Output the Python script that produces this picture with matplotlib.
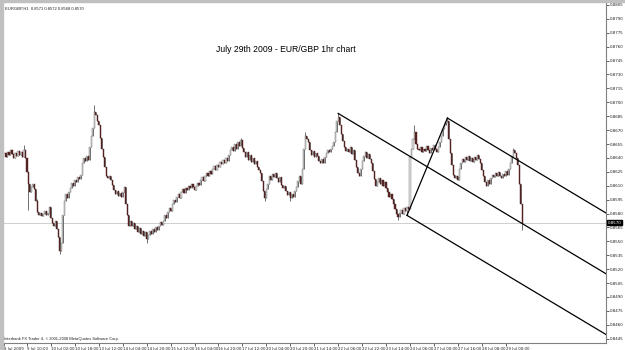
import matplotlib
matplotlib.use("Agg")
import matplotlib.pyplot as plt
from matplotlib.patches import Rectangle
import numpy as np

# ---- data (EUR/GBP, H1) ----
closes = [
    .8645, .8641, .8646, .8643, .8648, .8644, .8640, .8645, .8642, .8647,
    .8643, .8646, .8641, .8649, .8640,
    .8625, .8612, .8603,
    .8609, .8612, .8606,
    .8594, .8582, .8578,
    .8581, .8577, .8580, .8583, .8578, .8581, .8587,
    .8575, .8570, .8566, .8572, .8563,
    .8555, .8540, .8548,
    .8578, .8594,
    .8601, .8597, .8603, .8608,
    .8613, .8610, .8616, .8614, .8619, .8617, .8622,
    .8635, .8640, .8637, .8642, .8638,
    .8652, .8664, .8672, .8690, .8686,
    .8680,
    .8675, .8662, .8650,
    .8641, .8630, .8621,
    .8618, .8620, .8616, .8611,
    .8605, .8601, .8604, .8599, .8602, .8598, .8603, .8609,
    .8590, .8578, .8567,
    .8572, .8566, .8570, .8563, .8567, .8560, .8564, .8558, .8561, .8556,
    .8560, .8553, .8557, .8561, .8558, .8563, .8560, .8565, .8562, .8567,
    .8571, .8568,
    .8572, .8578, .8575, .8582, .8586, .8583, .8590,
    .8595, .8592, .8598, .8601, .8597, .8603, .8606, .8602,
    .8608, .8605, .8610, .8607, .8612, .8609, .8605, .8610, .8613, .8611,
    .8616, .8619, .8615, .8621, .8624, .8620, .8626, .8623, .8628, .8631,
    .8627, .8632, .8630, .8636, .8633, .8638, .8635, .8640, .8637, .8643,
    .8648, .8652, .8647, .8655, .8650, .8657, .8653, .8659, .8651, .8646,
    .8641, .8646, .8638, .8643, .8636, .8640, .8633, .8637, .8630, .8627,
    .8624, .8615, .8604, .8597, .8606, .8612, .8620, .8616, .8623, .8619,
    .8624, .8618, .8614, .8619, .8611, .8607, .8610, .8604, .8600, .8603,
    .8597, .8601, .8598, .8604, .8609, .8615, .8621,
    .8612, .8628, .8650, .8664, .8660, .8657,
    .8648, .8643, .8647, .8641, .8645, .8642,
    .8637, .8635, .8639, .8634,
    .8641, .8645, .8648, .8646, .8650, .8653, .8657,
    .8668, .8680, .8684,
    .8675, .8666, .8658, .8652, .8647,
    .8650, .8646, .8652, .8644, .8648,
    .8638, .8630, .8624, .8620,
    .8628, .8637, .8642, .8646, .8640, .8644, .8639, .8634,
    .8626, .8617, .8610, .8614,
    .8618, .8612, .8616, .8610, .8614, .8608,
    .8603, .8598, .8601, .8596,
    .8590, .8585, .8580, .8576, .8581, .8584,
    .8580, .8586, .8583, .8587, .8585,
    .8641, .8650,
    .8660, .8668, .8655, .8650,
    .8648, .8652, .8646, .8650, .8647, .8653, .8649, .8645, .8651, .8648,
    .8654, .8650, .8646, .8652, .8657,
    .8664, .8671, .8676, .8679, .8680,
    .8660, .8645, .8632, .8622,
    .8618, .8620, .8616,
    .8628, .8635, .8639, .8636, .8641, .8638, .8642, .8637, .8640, .8636,
    .8641, .8638, .8643, .8639, .8635,
    .8627, .8620, .8614, .8610, .8616, .8612, .8618,
    .8622, .8619, .8624, .8620, .8625, .8621, .8618, .8623, .8620, .8626,
    .8622, .8628, .8634,
    .8642, .8648, .8645, .8640, .8632,
    .8612, .8590, .8570,
]

# notable wick extremes (bar index -> price)
wick_highs = {13: .8654, 22: .8596, 60: .8697, 158: .8662, 201: .8668,
              223: .8688, 274: .8675, 296: .8683, 340: .8651}
wick_lows = {16: .8584, 37: .8536, 95: .8548, 174: .8593, 191: .8594,
             263: .8573, 269: .8578, 346: .8562}

# Andrews pitchfork anchors (bar index, price)
pf_bars = [223, 269, 296]
pf_prices = [.8688, .8578, .8683]

x_labels = ["8 Jul 2009", "9 Jul 10:00", "10 Jul 02:00", "10 Jul 18:00", "13 Jul 12:00",
            "14 Jul 04:00", "14 Jul 20:00", "15 Jul 12:00", "16 Jul 04:00", "16 Jul 20:00",
            "17 Jul 12:00", "20 Jul 04:00", "20 Jul 20:00", "21 Jul 14:00", "22 Jul 06:00",
            "22 Jul 22:00", "23 Jul 14:00", "24 Jul 06:00", "27 Jul 00:00", "27 Jul 16:00",
            "28 Jul 08:00", "29 Jul 00:00"]
x_label_bars = [0] + [15 + 16 * k for k in range(21)]

y_ticks = [round(0.8805 - 0.0015 * k, 4) for k in range(25)]
current_price = 0.8570
header = "EURGBP,H1  0.8571 0.8572 0.8568 0.8570"
title = "July 29th 2009 - EUR/GBP 1hr chart"
footer = "Interbank FX Trader 4, \u00a9 2001-2008 MetaQuotes Software Corp."

# ---- figure ----
W, H = 625, 350
fig = plt.figure(figsize=(W / 100, H / 100), dpi=100)
fig.patch.set_facecolor("white")
ax = fig.add_axes([3 / W, 7 / H, 603 / W, 342 / H])
ax.set_facecolor("white")

x_max = 402
ax.set_xlim(-1, x_max)
ax.set_ylim(0.84403, 0.88093)

n = len(closes)
xs = np.arange(n)
c = np.array(closes)
o = np.concatenate([[c[0]], c[:-1]])
hi = np.maximum(o, c)
lo = np.minimum(o, c)
for k, v in wick_highs.items():
    if k < n:
        hi[k] = max(hi[k], v)
for k, v in wick_lows.items():
    if k < n:
        lo[k] = min(lo[k], v)

ax.vlines(xs, lo, hi, color="#4a4a4a", lw=0.55, zorder=2)
bull = c >= o
bh = np.maximum(np.abs(c - o), 0.00003)
ax.bar(xs[bull], bh[bull], bottom=np.minimum(o, c)[bull], width=0.75,
       color="#e2e2e2", edgecolor="#6a6a6a", linewidth=0.3, zorder=3)
ax.bar(xs[~bull], bh[~bull], bottom=np.minimum(o, c)[~bull], width=0.75,
       color="#5a2626", edgecolor="#4a1c1c", linewidth=0.3, zorder=3)

# current price line
ax.axhline(current_price, color="#c8c8c8", lw=0.6, zorder=1)

# pitchfork
ax_, bx, cx = pf_bars
ay, by, cy = pf_prices
mx, my = (bx + cx) / 2, (by + cy) / 2
slope = (my - ay) / (mx - ax_)
lk = dict(color="black", lw=0.9, zorder=4)
ax.plot([ax_, x_max], [ay, ay + slope * (x_max - ax_)], **lk)
ax.plot([bx, x_max], [by, by + slope * (x_max - bx)], **lk)
ax.plot([cx, x_max], [cy, cy + slope * (x_max - cx)], **lk)
ax.plot([bx, cx], [by, cy], **lk)

# axes styling
for s in ["left", "top"]:
    ax.spines[s].set_visible(False)
for s in ["right", "bottom"]:
    ax.spines[s].set_color("#808080")
    ax.spines[s].set_linewidth(0.8)

ax.yaxis.tick_right()
ax.set_yticks(y_ticks)
ax.set_yticklabels([f"{v:.4f}" for v in y_ticks])
ax.tick_params(axis="y", length=2, width=0.5, pad=1.0, labelsize=2.9, colors="#202020")
ax.set_xticks(x_label_bars)
ax.set_xticklabels(x_labels, ha="left")
ax.tick_params(axis="x", length=2, width=0.5, pad=0.8, labelsize=2.8, colors="#202020")

# current price box
ax.annotate(f"{current_price:.4f}", xy=(1.0, current_price),
            xycoords=("axes fraction", "data"), xytext=(1.2, 0),
            textcoords="offset points", ha="left", va="center",
            fontsize=2.9, color="white",
            bbox=dict(boxstyle="square,pad=0.15", fc="black", ec="black"))

fam = ["Liberation Sans", "DejaVu Sans"]
ax.text(0.003, 0.985, header, transform=ax.transAxes, fontsize=3.0,
        ha="left", va="top", family=fam, color="#202020")
ax.text(283 / 603, 1 - 49 / 342, title, transform=ax.transAxes, fontsize=6.2,
        ha="center", va="center", family=fam, color="black")
ax.text(0.002, 0.006, footer, transform=ax.transAxes, fontsize=2.9,
        ha="left", va="bottom", family=fam, color="#202020")

# gray frame strips
fig.patches.append(Rectangle((0, 0), 3 / W, 1, transform=fig.transFigure,
                             color="#c0c0c0", zorder=0))
fig.patches.append(Rectangle((0, 1 - 1.5 / H), 1, 1.5 / H, transform=fig.transFigure,
                             color="#c0c0c0", zorder=0))

fig.savefig("out.png", dpi=100)
